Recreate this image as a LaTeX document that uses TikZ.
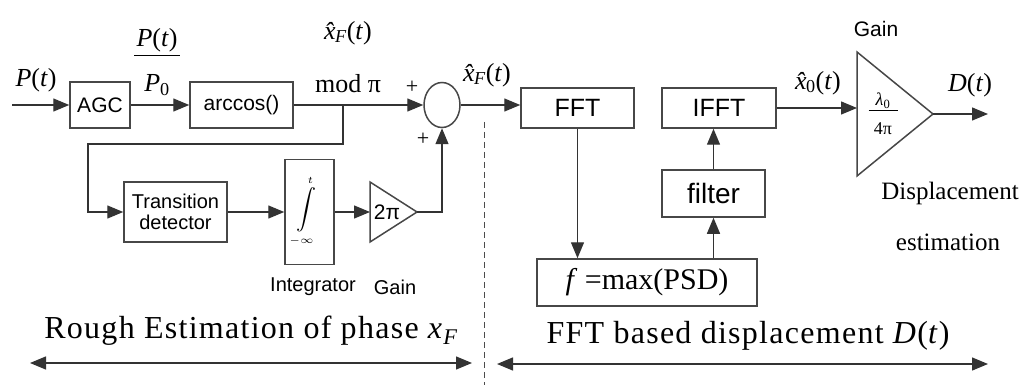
\documentclass[tikz,border=0pt]{standalone}
\usepackage{fontspec}
\usepackage{graphicx}
\setmainfont{Liberation Serif}
\setsansfont{Liberation Sans}
\newfontfamily\capfont[LetterSpace=4]{Liberation Serif}
\newcommand\hatx{\textit{x̂}\kern-0.4em}
\usetikzlibrary{arrows.meta,shapes.geometric}
\tikzset{
  box/.style={draw=black!72, line width=1.5pt, inner sep=0pt, font=\sffamily\fontsize{21}{25}\selectfont},
  conn/.style={draw=black!80, line width=1.4pt},
  arr/.style={conn, -{Triangle[length=16pt,width=13pt]}},
  darr/.style={conn, {Triangle[length=16pt,width=13pt]}-{Triangle[length=16pt,width=13pt]}},
  mlab/.style={inner sep=0pt, font=\fontsize{26}{30}\selectfont},
  slab/.style={inner sep=0pt, font=\sffamily\fontsize{20}{24}\selectfont},
  caption/.style={inner sep=0pt, anchor=base, font=\capfont\fontsize{32}{36}\selectfont},
  divider/.style={draw=black!70, line width=1pt, dash pattern=on 6pt off 4pt}
}
\begin{document}
\begin{tikzpicture}[x=1pt,y=-1pt]
\useasboundingbox (0,0) rectangle (1026,385);

% ---------- left part: rough estimation ----------
\node[box, minimum width=60pt, minimum height=46pt] (agc) at (100,105) {AGC};
\node[box, minimum width=103pt, minimum height=46pt] (acos) at (241.5,105) {arccos()};
\node[box, minimum width=103pt, minimum height=60pt, align=center,
      font=\sffamily\fontsize{20}{21}\selectfont] (trans) at (175.5,212) {Transition\\detector};
\node[box, minimum width=49pt, minimum height=105pt] (integ) at (309.5,212) {};
\node[inner sep=0pt] (intsym) at (306,211)
  {\scalebox{2}{$\displaystyle\int\limits_{\scriptscriptstyle-\infty}^{\scriptscriptstyle t}$}};
\node[draw=black!72, line width=1.5pt, ellipse, minimum width=36pt, minimum height=45pt,
      inner sep=0pt] (sum) at (442,105) {};

\coordinate (pinstart) at (12,105);
\coordinate (br) at (343,105);
\coordinate (fb) at (88,144);

% gain 2pi triangle
\coordinate (g1) at (370,182);
\coordinate (g2) at (370,242);
\coordinate (gt) at (417,212);
\coordinate (gin) at (370,212);
\draw[draw=black!72, line width=1.5pt, line join=miter] (g1) -- (gt) -- (g2) -- cycle;
\node[slab, font=\sffamily\fontsize{21}{24}\selectfont] (twopi) at (387,212) {2π};

\draw[arr] (pinstart) -- (agc.west);
\draw[arr] (agc.east) -- (acos.west);
\draw[arr] (acos.east) -- (sum.west);
\draw[arr] (br) |- (fb) |- (trans.west);
\draw[arr] (trans.east) -- (integ.west);
\draw[arr] (integ.east) -- (gin);
\draw[arr] (gt) -| (sum.south);

% labels left
\node[mlab] (pin) at (36,80) {\textit{P}(\textit{t})};
\node[mlab, anchor=north] (frac) at (157,28)
  {\vbox{\hbox to 46pt{\hss\textit{P}(\textit{t})\hss}\vskip 3pt\hrule height 1.2pt\vskip 19pt
         \hbox to 46pt{\hss\textit{P}\textsubscript{0}\hss}}};
\node[mlab] (xf1) at (348,33) {\hatx\textsubscript{\textit{F}}(\textit{t})};
\node[mlab] (modpi) at (348,84) {mod π};
\node[inner sep=0pt, font=\fontsize{22}{24}\selectfont] (plus1) at (412,87) {+};
\node[inner sep=0pt, font=\fontsize{22}{24}\selectfont] (plus2) at (423,139) {+};
\node[slab] (ilab) at (313,287) {Integrator};
\node[slab] (glab) at (395,287) {Gain};

% ---------- divider ----------
\coordinate (dtop) at (484,122);
\coordinate (dbot) at (484,385);
\draw[divider] (dtop) -- (dbot);

% ---------- right part: FFT based ----------
\node[box, minimum width=113pt, minimum height=40pt, font=\sffamily\fontsize{25}{28}\selectfont] (fft) at (577.5,108) {FFT};
\node[box, minimum width=114pt, minimum height=40pt, font=\sffamily\fontsize{25}{28}\selectfont] (ifft) at (719,108) {IFFT};
\node[box, minimum width=103pt, minimum height=47pt, font=\sffamily\fontsize{28}{30}\selectfont] (filt) at (713.5,193.5) {filter};
\node[box, minimum width=220pt, minimum height=47pt, font=\fontsize{30}{32}\selectfont] (psd) at (647,282.5) {\textit{f} =max(PSD)};

\coordinate (t1) at (857,52);
\coordinate (t2) at (857,176);
\coordinate (tt) at (933,114);
\coordinate (dout) at (988,114);
\draw[draw=black!72, line width=1.5pt, line join=miter] (t1) -- (tt) -- (t2) -- cycle;
\node[inner sep=0pt, anchor=north, font=\fontsize{18}{20}\selectfont] (lam) at (883,93)
  {\vbox{\hbox to 29pt{\hss\textit{λ}\textsubscript{0}\hss}\vskip 1pt\hrule height 1pt\vskip 12pt
         \hbox to 29pt{\hss 4π\hss}}};

\draw[arr] (sum.east) -- (sum.east -| fft.west);
\draw[arr] (fft.south) -- (fft.south |- psd.north);
\draw[arr] (filt.south |- psd.north) -- (filt.south);
\draw[arr] (filt.north) -- (filt.north |- ifft.south);
\draw[arr] (ifft.east) -- (ifft.east -| t1);
\draw[arr] (tt) -- (dout);

\node[mlab] (xf2) at (487,75) {\hatx\textsubscript{\textit{F}}(\textit{t})};
\node[mlab] (x0) at (818,83) {\hatx\textsubscript{0}(\textit{t})};
\node[mlab] (dt) at (970,85) {\textit{D}(\textit{t})};
\node[slab, font=\sffamily\fontsize{21}{24}\selectfont] (gain2) at (876,29) {Gain};
\node[inner sep=0pt, anchor=base, font=\fontsize{25}{30}\selectfont] (disp1) at (950,200) {Displacement};
\node[inner sep=0pt, anchor=base, font=\fontsize{25}{30}\selectfont] (disp2) at (948,250) {estimation};

% ---------- captions ----------
\node[caption] (cap1) at (251.5,338) {Rough Estimation of phase \textit{x}\textsubscript{\textit{F}}};
\node[caption] (cap2) at (748,343) {FFT based displacement \textit{D}(\textit{t})};
\coordinate (la1) at (30,363);
\coordinate (la2) at (472,363);
\coordinate (ra1) at (497,364);
\coordinate (ra2) at (988,364);
\draw[darr] (la1) -- (la2);
\draw[darr] (ra1) -- (ra2);
\end{tikzpicture}
\end{document}
